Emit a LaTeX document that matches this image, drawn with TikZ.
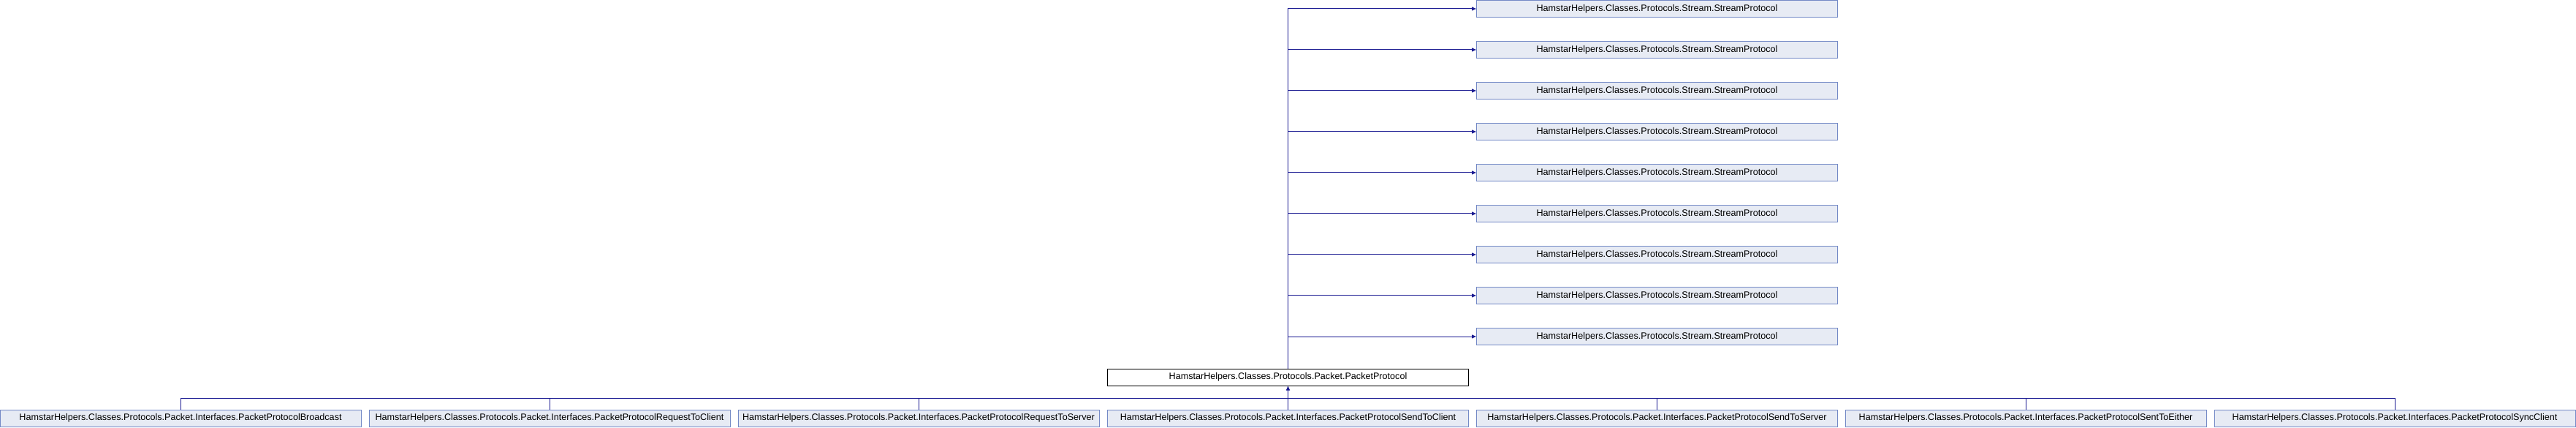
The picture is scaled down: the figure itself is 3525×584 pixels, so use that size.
\documentclass[tikz,border=0pt]{standalone}
\usepackage{fontspec}
\setmainfont{Liberation Sans}
\usetikzlibrary{arrows.meta}
\definecolor{edgeblue}{RGB}{25,25,145}
\definecolor{boxfill}{RGB}{231,235,244}
\definecolor{boxdraw}{RGB}{116,138,198}
\tikzset{
  cls/.style={draw=boxdraw, fill=boxfill, line width=1pt, minimum width=494pt, minimum height=23pt, inner sep=0pt, font=\fontsize{12.6}{14}\selectfont, text=black, anchor=center},
  cur/.style={cls, draw=black, fill=white},
  edge/.style={draw=edgeblue, line width=1pt},
  arr/.style={edge, -{Triangle[length=6pt,width=5pt]}}
}
\begin{document}
\begin{tikzpicture}[x=1pt,y=1pt]
\useasboundingbox (0,0) rectangle (3525,584);
\node[cur] (pp) at (1762.5,68.5) {HamstarHelpers.Classes.Protocols.Packet.PacketProtocol};
\foreach \k in {0,...,8}{
  \node[cls] (s\k) at (2267.5,{572-56*\k}) {HamstarHelpers.Classes.Protocols.Stream.StreamProtocol};
}
\foreach \k in {0,...,8}{
  \draw[arr] (pp.north) |- (s\k.west);
}
\node[cls] (b1) at (247,12.5) {HamstarHelpers.Classes.Protocols.Packet.Interfaces.PacketProtocolBroadcast};
\node[cls] (b2) at (752,12.5) {HamstarHelpers.Classes.Protocols.Packet.Interfaces.PacketProtocolRequestToClient};
\node[cls] (b3) at (1257,12.5) {HamstarHelpers.Classes.Protocols.Packet.Interfaces.PacketProtocolRequestToServer};
\node[cls] (b4) at (1762.5,12.5) {HamstarHelpers.Classes.Protocols.Packet.Interfaces.PacketProtocolSendToClient};
\node[cls] (b5) at (2267.5,12.5) {HamstarHelpers.Classes.Protocols.Packet.Interfaces.PacketProtocolSendToServer};
\node[cls] (b6) at (2772,12.5) {HamstarHelpers.Classes.Protocols.Packet.Interfaces.PacketProtocolSentToEither};
\node[cls] (b7) at (3277,12.5) {HamstarHelpers.Classes.Protocols.Packet.Interfaces.PacketProtocolSyncClient};
\coordinate (bus) at (0,40);
\draw[edge] (b1.north) -- (b1.north |- bus) -- (b7.north |- bus) -- (b7.north);
\foreach \i in {2,3,5,6}{
  \draw[edge] (b\i.north) -- (b\i.north |- bus);
}
\draw[arr] (b4.north) -- (pp.south);
\end{tikzpicture}
\end{document}
